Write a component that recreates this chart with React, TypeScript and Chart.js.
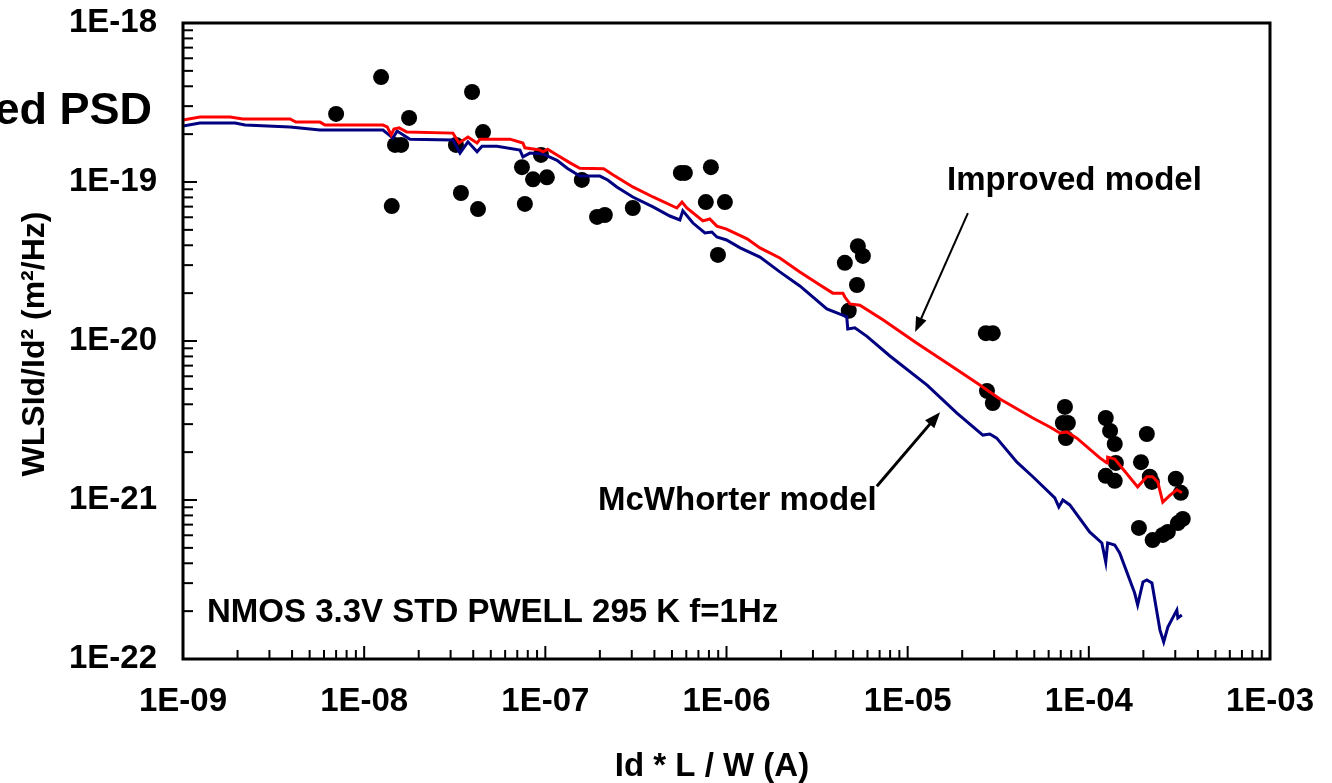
import React, { useEffect, useRef } from 'react';
import { Chart, registerables } from 'chart.js';

Chart.register(...registerables);

// Axis ticks
const xTickValues = [1e-9, 1e-8, 1e-7, 1e-6, 1e-5, 1e-4, 1e-3];
const xTickLabels = ['1E-09', '1E-08', '1E-07', '1E-06', '1E-05', '1E-04', '1E-03'];
const yTickValues = [1e-22, 1e-21, 1e-20, 1e-19, 1e-18];
const yTickLabels = ['1E-22', '1E-21', '1E-20', '1E-19', '1E-18'];
const minorMultipliers = [2, 3, 4, 5, 6, 7, 8, 9];

// Measured data (black dots)
const measuredX = [
  7.0e-9, 1.24e-8, 1.42e-8, 1.48e-8, 1.60e-8, 1.77e-8, 3.21e-8, 3.42e-8, 3.94e-8, 4.25e-8,
  4.53e-8, 7.43e-8, 7.71e-8, 8.55e-8, 1.02e-7, 9.46e-8, 1.59e-7, 1.93e-7, 2.13e-7, 3.04e-7,
  5.60e-7, 5.89e-7, 7.69e-7, 8.20e-7, 9.80e-7, 8.97e-7, 4.50e-6, 5.31e-6, 5.66e-6, 5.25e-6,
  4.73e-6, 2.70e-5, 2.95e-5, 2.74e-5, 2.95e-5, 7.38e-5, 7.19e-5, 7.66e-5, 7.47e-5, 1.24e-4,
  1.31e-4, 1.39e-4, 1.41e-4, 1.24e-4, 1.39e-4, 2.09e-4, 1.94e-4, 2.17e-4, 2.23e-4, 3.02e-4,
  3.22e-4, 1.89e-4, 2.25e-4, 2.56e-4, 2.73e-4, 3.10e-4, 3.30e-4,
];
const measuredY = [
  2.68e-19, 4.57e-19, 7.06e-20, 1.71e-19, 1.71e-19, 2.53e-19, 1.71e-19, 8.53e-20, 3.68e-19, 6.76e-20,
  2.06e-19, 1.24e-19, 7.28e-20, 1.04e-19, 1.07e-19, 1.48e-19, 1.03e-19, 6.03e-20, 6.20e-20, 6.86e-20,
  1.14e-19, 1.14e-19, 7.48e-20, 1.24e-19, 7.48e-20, 3.48e-20, 3.10e-20, 3.95e-20, 3.43e-20, 2.25e-20,
  1.55e-20, 1.12e-20, 1.12e-20, 4.85e-21, 4.07e-21, 3.85e-21, 3.05e-21, 3.05e-21, 2.45e-21, 3.28e-21,
  2.72e-21, 2.25e-21, 1.71e-21, 1.42e-21, 1.32e-21, 2.60e-21, 1.73e-21, 1.40e-21, 1.30e-21, 1.36e-21,
  1.11e-21, 6.67e-22, 5.60e-22, 6.03e-22, 6.30e-22, 7.16e-22, 7.60e-22,
];

// Improved model (red)
const improvedX = [
  1.00e-9, 1.24e-9, 1.82e-9, 2.14e-9, 3.90e-9, 4.20e-9, 5.70e-9, 6.08e-9, 1.27e-8, 1.34e-8,
  1.41e-8, 1.46e-8, 1.56e-8, 1.72e-8, 3.09e-8, 3.34e-8, 3.74e-8, 4.20e-8, 4.36e-8, 6.38e-8,
  7.52e-8, 7.71e-8, 9.33e-8, 9.70e-8, 1.03e-7, 1.16e-7, 1.37e-7, 1.55e-7, 2.10e-7, 2.36e-7,
  3.04e-7, 3.93e-7, 5.32e-7, 5.68e-7, 6.04e-7, 7.41e-7, 8.09e-7, 8.85e-7, 1.00e-6, 1.30e-6,
  1.53e-6, 1.97e-6, 2.54e-6, 3.28e-6, 3.86e-6, 4.39e-6, 4.50e-6, 4.80e-6, 5.45e-6, 7.30e-6,
  1.12e-5, 1.71e-5, 2.41e-5, 3.23e-5, 4.91e-5, 6.09e-5, 6.92e-5, 7.57e-5, 8.59e-5, 1.15e-4,
  1.26e-4, 1.27e-4, 1.39e-4, 1.86e-4, 2.09e-4, 2.25e-4, 2.40e-4, 2.56e-4, 2.80e-4, 3.06e-4,
  3.26e-4,
];
const improvedY = [
  2.45e-19, 2.56e-19, 2.56e-19, 2.49e-19, 2.49e-19, 2.38e-19, 2.38e-19, 2.28e-19, 2.28e-19, 2.22e-19,
  1.98e-19, 2.15e-19, 2.19e-19, 2.06e-19, 2.03e-19, 1.76e-19, 1.92e-19, 1.76e-19, 1.86e-19, 1.86e-19,
  1.76e-19, 1.64e-19, 1.59e-19, 1.55e-19, 1.61e-19, 1.48e-19, 1.32e-19, 1.22e-19, 1.21e-19, 1.11e-19,
  9.31e-20, 8.05e-20, 6.86e-20, 7.48e-20, 6.86e-20, 5.69e-20, 5.85e-20, 5.28e-20, 5.06e-20, 4.39e-20,
  3.85e-20, 3.33e-20, 2.72e-20, 2.25e-20, 2.00e-20, 2.00e-20, 1.89e-20, 1.71e-20, 1.68e-20, 1.36e-20,
  9.70e-21, 7.06e-21, 5.44e-21, 4.32e-21, 3.28e-21, 2.88e-21, 2.64e-21, 2.68e-21, 2.45e-21, 1.84e-21,
  1.71e-21, 1.86e-21, 1.81e-21, 1.21e-21, 1.40e-21, 1.40e-21, 1.30e-21, 9.70e-22, 1.07e-21, 1.16e-21,
  1.11e-21,
];

// McWhorter model (navy)
const mcwhorterX = [
  1.00e-9, 1.24e-9, 1.94e-9, 2.20e-9, 3.90e-9, 5.70e-9, 1.27e-8, 1.37e-8, 1.44e-8, 1.52e-8,
  1.79e-8, 3.09e-8, 3.38e-8, 3.74e-8, 4.20e-8, 4.47e-8, 5.41e-8, 7.24e-8, 7.52e-8, 8.22e-8,
  9.70e-8, 1.16e-7, 1.32e-7, 1.55e-7, 2.00e-7, 2.21e-7, 2.48e-7, 3.04e-7, 3.93e-7, 4.87e-7,
  5.53e-7, 5.74e-7, 6.53e-7, 7.60e-7, 8.30e-7, 8.85e-7, 1.00e-6, 1.19e-6, 1.53e-6, 1.97e-6,
  2.54e-6, 3.58e-6, 4.34e-6, 4.61e-6, 4.67e-6, 5.11e-6, 5.96e-6, 7.98e-6, 1.28e-5, 1.87e-5,
  2.60e-5, 2.84e-5, 3.10e-5, 4.01e-5, 4.91e-5, 6.49e-5, 6.83e-5, 7.19e-5, 7.85e-5, 1.01e-4,
  1.18e-4, 1.24e-4, 1.27e-4, 1.39e-4, 1.48e-4, 1.79e-4, 1.86e-4, 1.99e-4, 2.09e-4, 2.23e-4,
  2.47e-4, 2.59e-4, 2.73e-4, 3.06e-4, 3.10e-4, 3.26e-4,
];
const mcwhorterY = [
  2.25e-19, 2.35e-19, 2.35e-19, 2.28e-19, 2.22e-19, 2.12e-19, 2.12e-19, 1.98e-19, 1.89e-19, 2.09e-19,
  1.86e-19, 1.84e-19, 1.52e-19, 1.79e-19, 1.55e-19, 1.68e-19, 1.68e-19, 1.59e-19, 1.44e-19, 1.52e-19,
  1.50e-19, 1.37e-19, 1.22e-19, 1.09e-19, 1.09e-19, 1.03e-19, 9.31e-20, 8.05e-20, 6.97e-20, 6.11e-20,
  5.77e-20, 6.58e-20, 5.52e-20, 4.78e-20, 4.85e-20, 4.51e-20, 4.32e-20, 3.85e-20, 3.37e-20, 2.72e-20,
  2.22e-20, 1.59e-20, 1.46e-20, 1.42e-20, 1.19e-20, 1.21e-20, 1.07e-20, 8.05e-21, 5.28e-21, 3.52e-21,
  2.56e-21, 2.60e-21, 2.45e-21, 1.73e-21, 1.40e-21, 1.03e-21, 9.03e-22, 1.00e-21, 9.31e-22, 6.30e-22,
  5.37e-22, 4.07e-22, 5.37e-22, 5.21e-22, 4.65e-22, 2.60e-22, 2.19e-22, 3.05e-22, 3.14e-22, 3.01e-22,
  1.52e-22, 1.28e-22, 1.59e-22, 2.03e-22, 1.81e-22, 1.89e-22,
];

// Annotation arrows (data space): [fromX, fromY, toX, toY]
const improvedArrow = [2.15e-5, 6.38e-20, 1.10e-5, 1.14e-20];
const mcwhorterArrow = [6.76e-6, 1.22e-21, 1.51e-5, 3.57e-21];

const FONT = "'Liberation Sans', Arial, Helvetica, sans-serif";

const toPoints = (xs: number[], ys: number[]) => xs.map((x, i) => ({ x, y: ys[i] }));

function drawArrow(ctx: CanvasRenderingContext2D, x1: number, y1: number, x2: number, y2: number, width: number, head: number) {
  const ang = Math.atan2(y2 - y1, x2 - x1);
  ctx.save();
  ctx.strokeStyle = '#000';
  ctx.fillStyle = '#000';
  ctx.lineWidth = width;
  ctx.beginPath();
  ctx.moveTo(x1, y1);
  ctx.lineTo(x2 - Math.cos(ang) * head * 0.8, y2 - Math.sin(ang) * head * 0.8);
  ctx.stroke();
  ctx.beginPath();
  ctx.moveTo(x2, y2);
  ctx.lineTo(x2 - head * Math.cos(ang) + (head * 0.38) * Math.sin(ang), y2 - head * Math.sin(ang) - (head * 0.38) * Math.cos(ang));
  ctx.lineTo(x2 - head * Math.cos(ang) - (head * 0.38) * Math.sin(ang), y2 - head * Math.sin(ang) + (head * 0.38) * Math.cos(ang));
  ctx.closePath();
  ctx.fill();
  ctx.restore();
}

const decorPlugin = {
  id: 'decor',
  afterDatasetsDraw(chart: any) {
    const { ctx, chartArea: a, scales } = chart;
    const xs = scales.x;
    const ys = scales.y;
    ctx.save();
    ctx.strokeStyle = '#000';
    ctx.lineWidth = 2;
    // inside ticks, x
    xTickValues.forEach((v, i) => {
      const px = xs.getPixelForValue(v);
      ctx.beginPath();
      ctx.moveTo(px, a.bottom);
      ctx.lineTo(px, a.bottom - 13);
      ctx.stroke();
      if (i < xTickValues.length - 1) {
        minorMultipliers.forEach((m) => {
          const p = xs.getPixelForValue(v * m);
          ctx.beginPath();
          ctx.moveTo(p, a.bottom);
          ctx.lineTo(p, a.bottom - 9);
          ctx.stroke();
        });
      }
    });
    yTickValues.forEach((v, i) => {
      const py = ys.getPixelForValue(v);
      ctx.beginPath();
      ctx.moveTo(a.left, py);
      ctx.lineTo(a.left + 14, py);
      ctx.stroke();
      if (i < yTickValues.length - 1) {
        minorMultipliers.forEach((m) => {
          const p = ys.getPixelForValue(v * m);
          ctx.beginPath();
          ctx.moveTo(a.left, p);
          ctx.lineTo(a.left + 10, p);
          ctx.stroke();
        });
      }
    });
    // frame
    ctx.lineWidth = 3;
    ctx.strokeRect(a.left, a.top, a.right - a.left, a.bottom - a.top);

    // arrows
    drawArrow(ctx,
      xs.getPixelForValue(improvedArrow[0]), ys.getPixelForValue(improvedArrow[1]),
      xs.getPixelForValue(improvedArrow[2]), ys.getPixelForValue(improvedArrow[3]), 2, 15);
    drawArrow(ctx,
      xs.getPixelForValue(mcwhorterArrow[0]), ys.getPixelForValue(mcwhorterArrow[1]),
      xs.getPixelForValue(mcwhorterArrow[2]), ys.getPixelForValue(mcwhorterArrow[3]), 3, 16);

    // texts
    ctx.fillStyle = '#000';
    ctx.textBaseline = 'alphabetic';
    ctx.font = `bold 33px ${FONT}`;
    ctx.textAlign = 'left';
    ctx.fillText('Improved model', 947, 190);
    ctx.fillText('McWhorter model', 598, 510);
    ctx.fillText('NMOS 3.3V STD PWELL 295 K f=1Hz', 207, 622);

    ctx.textAlign = 'center';
    ctx.font = `bold 33px ${FONT}`;
    ctx.fillText('Id * L / W (A)', 712, 776);

    // partial title at top-left
    ctx.textAlign = 'right';
    ctx.font = `bold 45px ${FONT}`;
    ctx.fillText('Normalized PSD', 152, 124);

    // y axis title (rotated, top part hidden)
    ctx.save();
    ctx.beginPath();
    ctx.rect(0, 199, 120, 400);
    ctx.clip();
    ctx.translate(44, 344);
    ctx.rotate(-Math.PI / 2);
    ctx.textAlign = 'center';
    ctx.font = `bold 32px ${FONT}`;
    ctx.fillText('WLSId/Id\u00B2 (m\u00B2/Hz)', 0, 0);
    ctx.restore();

    ctx.restore();
  },
};

export default function App() {
  const ref = useRef<HTMLCanvasElement | null>(null);
  useEffect(() => {
    document.body.style.margin = '0';
    const canvas = ref.current;
    if (!canvas) return;
    const chart = new Chart(canvas, {
      type: 'scatter',
      data: {
        datasets: [
          {
            label: 'Improved model',
            data: toPoints(improvedX, improvedY),
            showLine: true,
            borderColor: '#FF0000',
            borderWidth: 3,
            pointRadius: 0,
            tension: 0,
            order: 0,
          },
          {
            label: 'McWhorter model',
            data: toPoints(mcwhorterX, mcwhorterY),
            showLine: true,
            borderColor: '#000080',
            borderWidth: 3,
            pointRadius: 0,
            tension: 0,
            order: 1,
          },
          {
            label: 'Measured',
            data: toPoints(measuredX, measuredY),
            showLine: false,
            pointRadius: 8,
            pointBackgroundColor: '#000',
            pointBorderWidth: 0,
            borderColor: '#000',
            order: 2,
          },
        ],
      },
      options: {
        responsive: false,
        animation: false,
        devicePixelRatio: 1,
        layout: { padding: { left: 0, right: 62, top: 23, bottom: 0 } },
        plugins: { legend: { display: false }, tooltip: { enabled: false } },
        scales: {
          x: {
            type: 'logarithmic',
            min: 1e-9,
            max: 1e-3,
            grid: { display: false, drawTicks: false },
            border: { display: false },
            afterBuildTicks: (s: any) => {
              s.ticks = xTickValues.map((value) => ({ value }));
            },
            afterFit: (s: any) => {
              s.height = 124;
              s.paddingLeft = 0;
              s.paddingRight = 0;
            },
            ticks: {
              autoSkip: false,
              maxRotation: 0,
              padding: 23,
              color: '#000',
              font: { family: FONT, size: 33, weight: 'bold' },
              callback: (v: any) => xTickLabels[xTickValues.indexOf(Number(v))] ?? '',
            },
          },
          y: {
            type: 'logarithmic',
            min: 1e-22,
            max: 1e-18,
            grid: { display: false, drawTicks: false },
            border: { display: false },
            afterBuildTicks: (s: any) => {
              s.ticks = yTickValues.map((value) => ({ value }));
            },
            afterFit: (s: any) => {
              s.width = 183;
              s.paddingTop = 0;
              s.paddingBottom = 0;
            },
            ticks: {
              autoSkip: false,
              padding: 26,
              color: '#000',
              font: { family: FONT, size: 33, weight: 'bold' },
              callback: (v: any) => yTickLabels[yTickValues.indexOf(Number(v))] ?? '',
            },
          },
        },
      },
      plugins: [decorPlugin],
    });
    return () => chart.destroy();
  }, []);
  return (
    <div style={{ position: 'fixed', left: 0, top: 0, width: 1332, height: 783, background: '#fff' }}>
      <canvas ref={ref} width={1332} height={783} style={{ display: 'block' }} />
    </div>
  );
}
